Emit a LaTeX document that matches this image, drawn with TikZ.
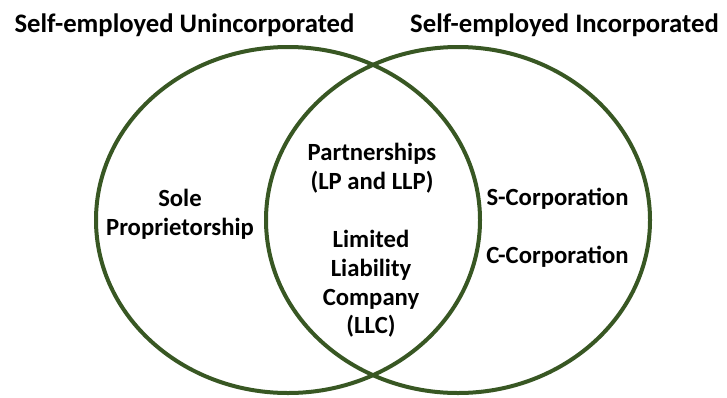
\documentclass[tikz,border=0pt]{standalone}
\usepackage{fontspec}
\setmainfont{Carlito}
\usetikzlibrary{shapes.geometric}
\usetikzlibrary{positioning}
\usepackage{xcolor}
\definecolor{venngreen}{RGB}{56,87,35}

\begin{document}
\begin{tikzpicture}[
        x=1pt, y=-1pt,
        enode/.style={ellipse, draw=venngreen, line width=4pt, minimum width=384pt, minimum height=346pt, inner sep=0pt},
        tnode/.style={font=\fontsize{26.7}{32}\selectfont\bfseries, anchor=base, inner sep=0pt},
        lnode/.style={font=\fontsize{24.7}{28.7}\selectfont\bfseries, align=center, inner sep=0pt},
        node distance=58pt
    ]
        \useasboundingbox (0,0) rectangle (727,397);
        % the two sets
        \node[enode] (U) at (288,220) {};
        \node[enode] (I) at (458,220) {};
        \node[tnode] (UT) at (184.5,32) {Self-employed Unincorporated};
        \node[tnode] (IT) at (564.5,32) {Self-employed Incorporated};

        % what sits in each part
        \node[lnode] (sole) at (180,214) {Sole\\Proprietorship};
        \node[lnode] (part) at (372,168.5) {Partnerships\\(LP and LLP)};
        \node[lnode] (llc) at (371,284) {Limited\\Liability\\Company\\(LLC)};
        \node[lnode, anchor=base] (scorp) at (557.5,205) {S-Corporation};
        \node[lnode] (ccorp) [below of=scorp] {C-Corporation};
    \end{tikzpicture}
\end{document}
